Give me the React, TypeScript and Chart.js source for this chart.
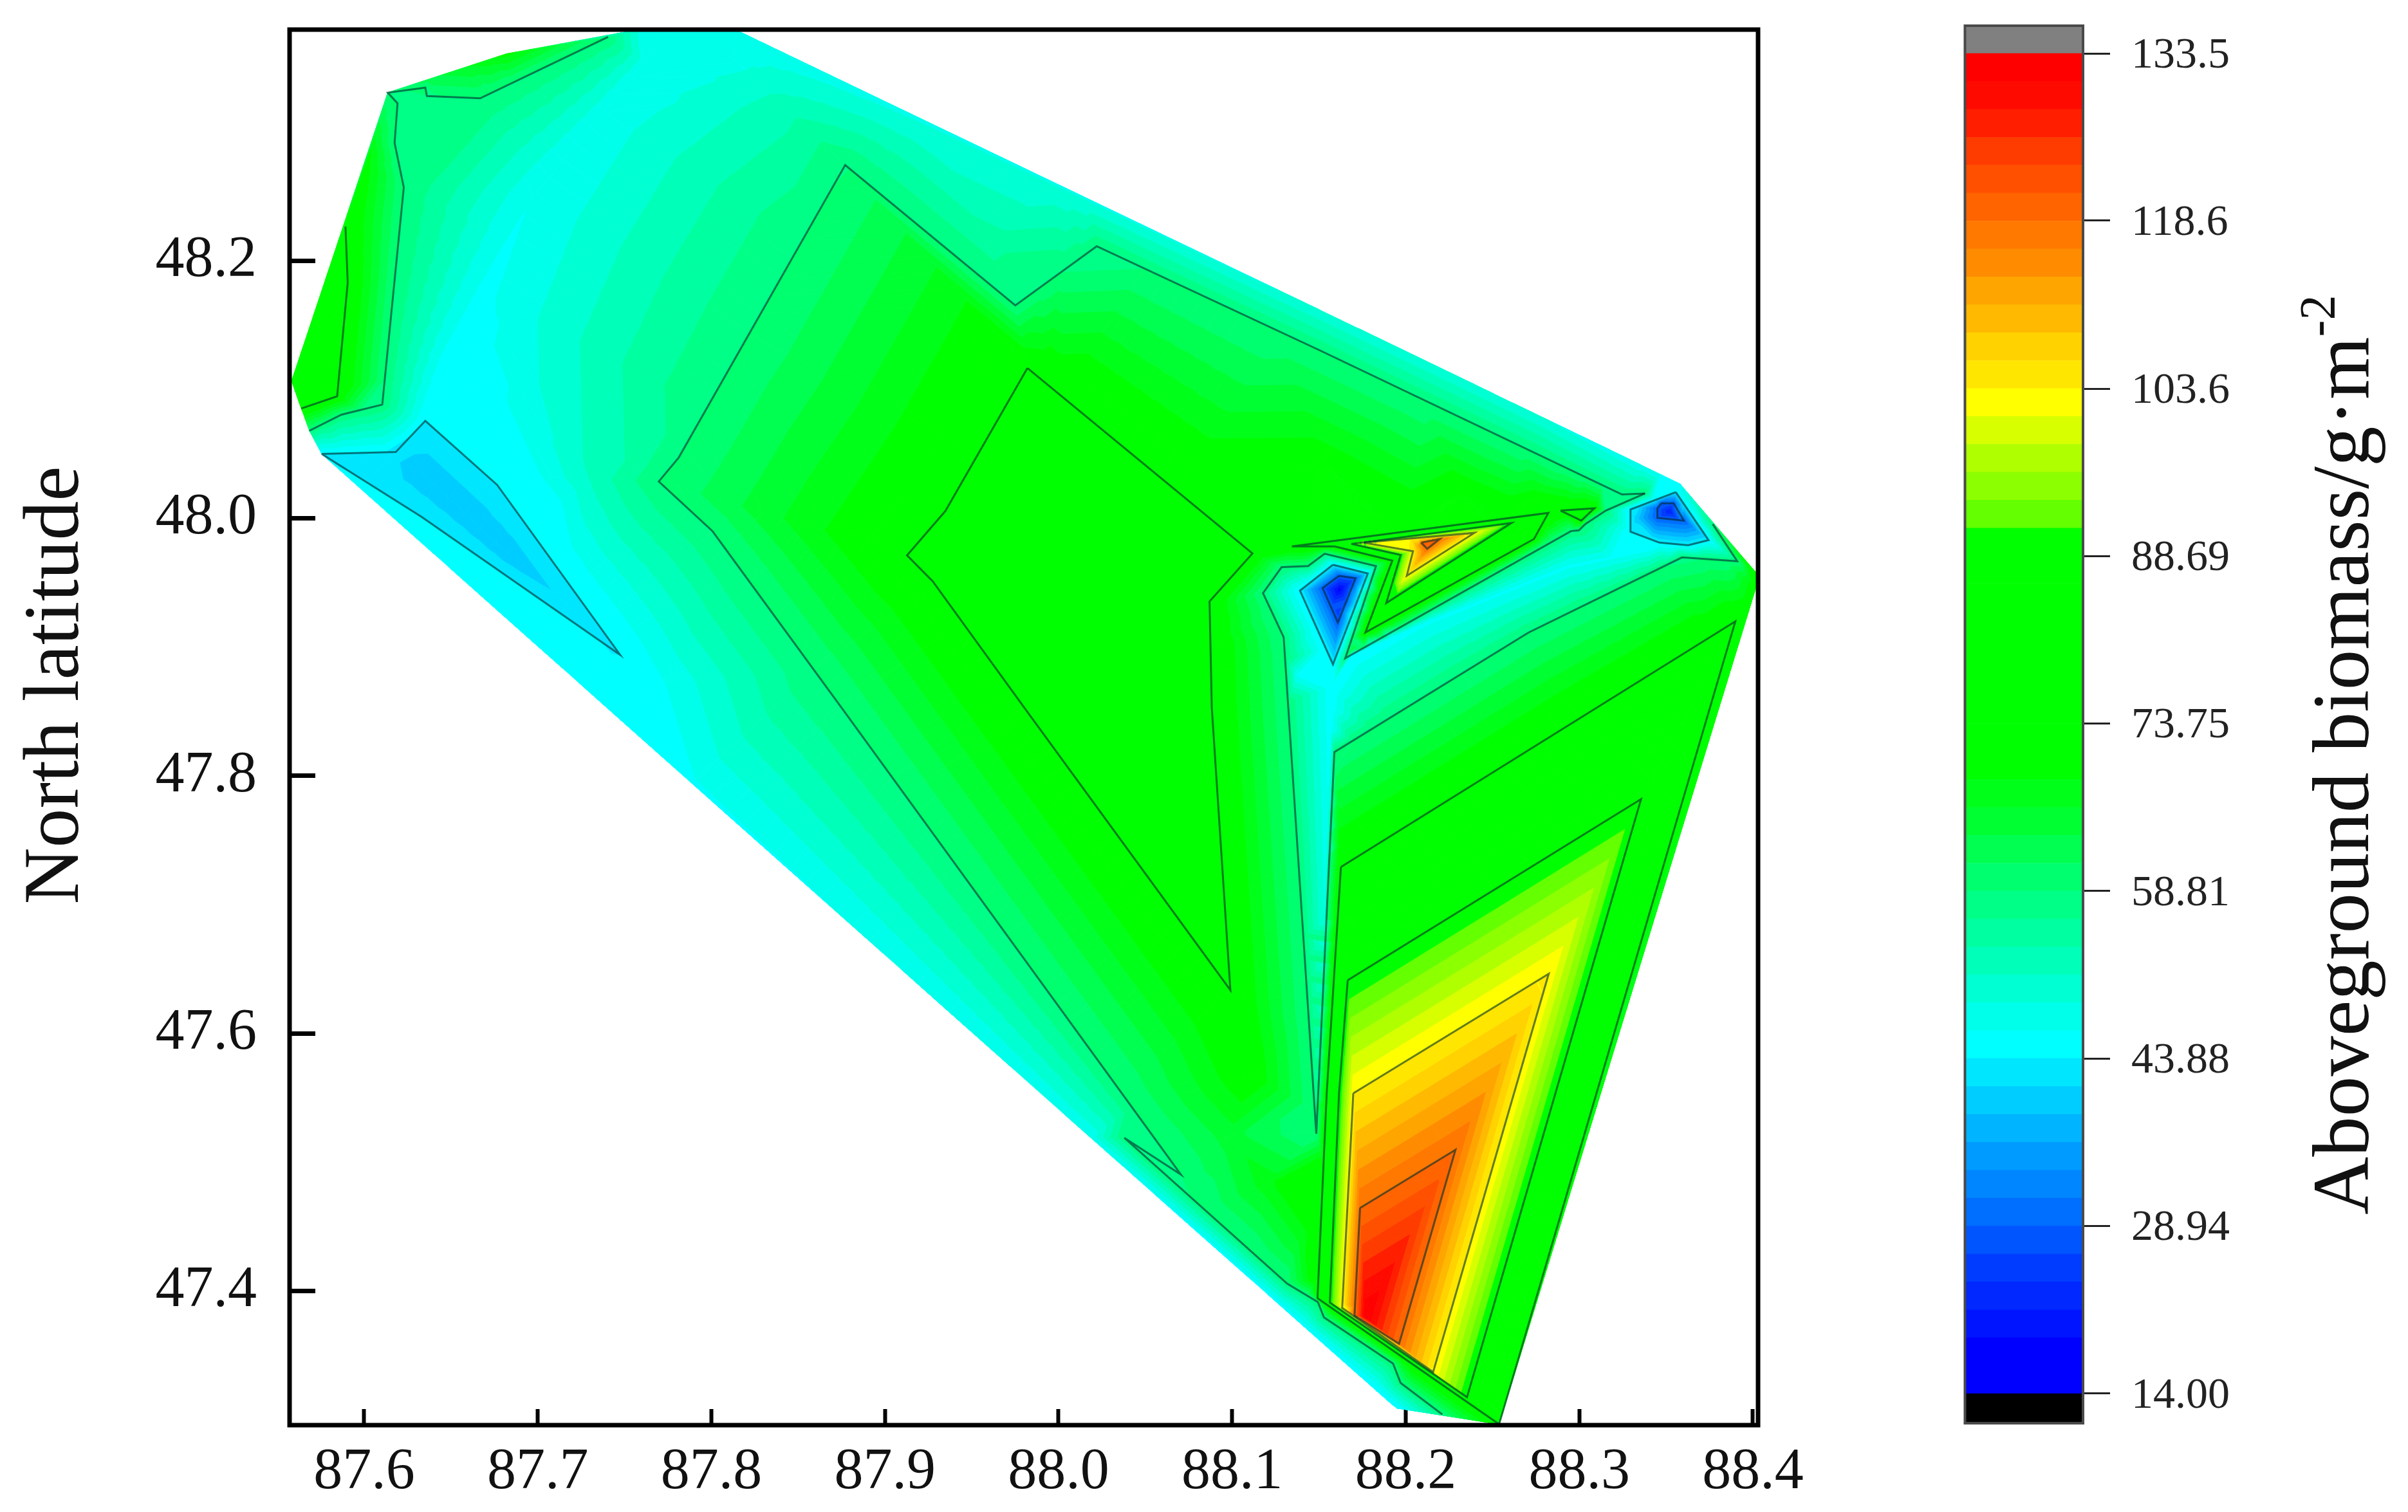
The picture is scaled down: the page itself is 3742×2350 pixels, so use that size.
import React, { useEffect, useRef } from "react";
import { Chart, registerables } from "chart.js";
Chart.register(...registerables);

type P = [number, number];
type N = [number, number, number];

const serif = "'Liberation Serif', 'Times New Roman', serif";

// ---------- axes ----------
const lonTicks = [87.6, 87.7, 87.8, 87.9, 88.0, 88.1, 88.2, 88.3, 88.4];
const latTicks = [47.4, 47.6, 47.8, 48.0, 48.2];
const lonRange = [87.557, 88.403];
const latRange = [47.2957, 48.3797];

// ---------- colour scale ----------
const bandEdges = [14, 16.49, 18.98, 21.47, 23.96, 26.45, 28.94, 31.43, 33.92, 36.41, 38.9, 41.39, 43.88, 46.37, 48.86, 51.34, 53.83, 56.32, 58.81, 61.3, 63.79, 66.28, 68.77, 71.26, 73.75, 76.24, 78.73, 81.22, 83.71, 86.2, 88.69, 91.18, 93.67, 96.16, 98.65, 101.13, 103.62, 106.11, 108.6, 111.09, 113.58, 116.07, 118.56, 121.05, 123.54, 126.03, 128.52, 131.01, 133.5];
const bandColors = [
  "rgb(0,0,255)", "rgb(0,0,255)", "rgb(0,20,255)", "rgb(0,40,255)", "rgb(0,60,255)", "rgb(0,85,255)",
  "rgb(0,110,255)", "rgb(0,135,255)", "rgb(0,155,255)", "rgb(0,180,255)", "rgb(0,205,255)", "rgb(0,230,255)",
  "rgb(0,255,255)", "rgb(0,255,235)", "rgb(0,255,210)", "rgb(0,255,185)", "rgb(0,255,160)", "rgb(0,255,135)",
  "rgb(0,255,110)", "rgb(0,255,80)", "rgb(0,255,50)", "rgb(0,255,25)",
  "rgb(0,255,0)", "rgb(0,255,0)", "rgb(0,255,0)", "rgb(0,255,0)", "rgb(0,255,0)", "rgb(0,255,0)", "rgb(0,255,0)", "rgb(0,255,0)", "rgb(0,255,0)",
  "rgb(100,255,0)", "rgb(140,255,0)", "rgb(175,255,0)", "rgb(215,255,0)", "rgb(255,255,0)",
  "rgb(255,230,0)", "rgb(255,210,0)", "rgb(255,185,0)", "rgb(255,165,0)", "rgb(255,140,0)", "rgb(255,120,0)",
  "rgb(255,100,0)", "rgb(255,80,0)", "rgb(255,60,0)", "rgb(255,30,0)", "rgb(255,10,0)", "rgb(255,0,0)",
];
const colorbarTicks = [14, 28.94, 43.88, 58.81, 73.75, 88.69, 103.6, 118.6, 133.5];
const colorbarLabels = ["14.00", "28.94", "43.88", "58.81", "73.75", "88.69", "103.6", "118.6", "133.5"];
const colorbarRange = [11.36, 135.97];

// ---------- outline of the surveyed area: lon, lat, biomass ----------
const hull: N[] = [
  [87.6136, 48.3307, 58.81], [87.6821, 48.3609, 70], [87.7405, 48.374, 58.81], [87.7591, 48.38, 48],
  [87.8131, 48.38, 47], [87.9282, 48.3027, 49], [88.1503, 48.1621, 49], [88.2799, 48.0778, 49],
  [88.3579, 48.027, 46], [88.3769, 47.9956, 58.81], [88.4016, 47.9583, 74], [88.4016, 47.9459, 72],
  [88.3282, 47.6274, 66], [88.2538, 47.2964, 73.75], [88.2211, 47.304, 58.81], [88.1945, 47.309, 44],
  [88.002, 47.5388, 47], [87.7883, 47.7949, 46], [87.5755, 48.0501, 43.88], [87.5684, 48.0681, 58.81],
  [87.5638, 48.0854, 73.75], [87.5582, 48.1069, 78], [87.5892, 48.2267, 73.75], [87.6025, 48.2834, 70],
];

// ---------- traced isolines: lon, lat ----------
const line58North: P[] = [
  [88.3379, 48.0194], [88.3246, 48.0186], [88.1503, 48.1307], [88.022, 48.2114], [87.9751, 48.1655],
  [87.8771, 48.2745], [87.7812, 48.0473], [87.7697, 48.0287], [87.8007, 47.99], [87.8751, 47.8528],
  [88.0705, 47.4903], [88.0379, 47.5189], [88.1317, 47.4056], [88.1494, 47.3913], [88.1529, 47.3794],
  [88.1927, 47.3436], [88.1971, 47.3284], [88.2211, 47.304],
];
const line58East: P[] = [
  [88.3379, 48.0194], [88.3153, 48.0061], [88.3034, 47.9955], [88.2998, 47.9907], [88.2953, 47.9902],
  [88.1652, 47.8914], [88.1829, 47.963], [88.1533, 47.9726], [88.1438, 47.963], [88.1285, 47.9621],
  [88.1178, 47.942], [88.1297, 47.9077], [88.1485, 47.522], [88.1589, 47.8185], [88.2707, 47.9113],
  [88.3592, 47.9697], [88.391, 47.9668], [88.3769, 47.9956],
];
const line58West: P[] = [
  [87.7405, 48.374], [87.6668, 48.3263], [87.6361, 48.3281], [87.6352, 48.3346], [87.6136, 48.3307],
  [87.6192, 48.3224], [87.6175, 48.2917], [87.6228, 48.2571], [87.6104, 48.0884], [87.5869, 48.0806], [87.5684, 48.0681],
];
const line73West: P[] = [[87.5892, 48.2267], [87.5905, 48.1832], [87.5844, 48.0949], [87.5638, 48.0854]];
const line43West: P[] = [
  [87.5755, 48.0501], [87.6182, 48.0516], [87.6352, 48.0758], [87.6766, 48.026], [87.7474, 47.8941], [87.633, 48.0012], [87.5755, 48.0501],
];
const line73Center: P[] = [
  [87.9821, 48.1168], [88.1117, 47.9728], [88.087, 47.9355], [88.0883, 47.8528], [88.099, 47.6336],
  [87.9804, 47.8528], [87.9275, 47.9512], [87.9127, 47.9713], [87.9348, 48.0057], [87.9821, 48.1168],
];
const line73Ne: P[] = [
  [88.1344, 47.9783], [88.2822, 48.0043], [88.2739, 47.984], [88.1768, 47.9114], [88.1923, 47.9673], [88.1591, 47.9783], [88.1344, 47.9783],
];
const line73Small: P[] = [[88.2892, 48.0061], [88.3087, 48.0079], [88.3012, 47.9983], [88.2892, 48.0061]];
const line88Ne: P[] = [[88.1687, 47.9802], [88.2609, 47.9965], [88.1888, 47.9343], [88.1971, 47.9716], [88.1687, 47.9802]];
const line103Ne: P[] = [[88.1758, 47.9812], [88.2397, 47.9888], [88.2006, 47.9554], [88.2042, 47.9745], [88.1758, 47.9812]];
const line118Ne: P[] = [[88.2089, 47.9812], [88.2196, 47.984], [88.2124, 47.9764], [88.2089, 47.9812]];
const line43BlueW: P[] = [[88.1581, 47.964], [88.1391, 47.9439], [88.1581, 47.8866], [88.1782, 47.9573], [88.1581, 47.964]];
const line28BlueW: P[] = [[88.1616, 47.9554], [88.1521, 47.9459], [88.1609, 47.919], [88.1711, 47.9535], [88.1616, 47.9554]];
const line43BlueE: P[] = [
  [88.3556, 48.0204], [88.3295, 48.007], [88.3295, 47.9897], [88.3461, 47.9812], [88.3627, 47.9792], [88.3745, 47.9831], [88.3556, 48.0204],
];
const line28BlueE: P[] = [
  [88.3473, 48.0118], [88.345, 48.0079], [88.345, 48.0004], [88.3603, 47.9983], [88.3544, 48.0118], [88.3473, 48.0118],
];
const line73Se: P[] = [
  [88.1627, 47.7293], [88.3899, 47.92], [88.2538, 47.2964], [88.1492, 47.3943], [88.1545, 47.5535], [88.1627, 47.7293],
];
const line88Se: P[] = [
  [88.1666, 47.6413], [88.3356, 47.782], [88.2353, 47.3174], [88.1563, 47.3909], [88.1616, 47.5535], [88.1666, 47.6413],
];
const line103Se: P[] = [
  [88.1698, 47.5535], [88.2824, 47.6463], [88.2158, 47.3369], [88.1634, 47.3868], [88.1698, 47.5535],
];
const line118Se: P[] = [
  [88.1737, 47.4644], [88.2287, 47.5096], [88.1962, 47.3589], [88.1705, 47.3808], [88.1737, 47.4644],
];

const isolines: [P[], number][] = [
  [line58North, 58.81], [line58East, 58.81], [line58West, 58.81], [line73West, 73.75], [line43West, 43.88],
  [line73Center, 73.75], [line73Ne, 73.75], [line73Small, 73.75], [line88Ne, 88.69], [line103Ne, 103.6], [line118Ne, 118.6],
  [line43BlueW, 43.88], [line28BlueW, 28.94], [line43BlueE, 43.88], [line28BlueE, 28.94],
  [line73Se, 73.75], [line88Se, 88.69], [line103Se, 103.6], [line118Se, 118.6],
];

// ---------- ridges and valleys read between the isolines: lon, lat, biomass ----------
const peakSe: N = [88.1768, 47.3794, 133.5];
const peakNe: N = [88.2158, 47.9828, 123];
const lowW: N = [88.1618, 47.9447, 18];
const lowE: N = [88.3521, 48.0055, 22];
const ridges: N[][] = [
  [peakSe, [88.1737, 47.4644, 118.6], [88.1698, 47.5535, 103.6], [88.1666, 47.6413, 88.69], [88.1627, 47.7293, 73.75], [88.1589, 47.8185, 58.81]],
  [peakSe, [88.2287, 47.5096, 118.6], [88.2824, 47.6463, 103.6], [88.3356, 47.782, 88.69], [88.3899, 47.92, 73.75]],
  [peakSe, [88.1962, 47.3589, 118.6], [88.2158, 47.3369, 103.6], [88.2353, 47.3174, 88.69], [88.2538, 47.2964, 73.75]],
  [peakSe, [88.1705, 47.3808, 118.6], [88.1634, 47.3868, 103.6], [88.1563, 47.3909, 88.69], [88.1492, 47.3943, 73.75], [88.1494, 47.3913, 58.81]],
  [peakNe, [88.2196, 47.984, 118.6], [88.2397, 47.9888, 103.6], [88.2609, 47.9965, 88.69], [88.2822, 48.0043, 73.75]],
  [peakNe, [88.2124, 47.9764, 118.6], [88.2006, 47.9554, 103.6], [88.1888, 47.9343, 88.69], [88.1768, 47.9114, 73.75], [88.1652, 47.8914, 58.81], [88.1581, 47.8866, 43.88]],
  [peakNe, [88.2089, 47.9812, 118.6], [88.2042, 47.9745, 103.6], [88.1971, 47.9716, 88.69], [88.1923, 47.9673, 73.75], [88.1829, 47.963, 58.81], [88.1782, 47.9573, 43.88], [88.1711, 47.9535, 28.94], lowW],
  [[88.1758, 47.9812, 103.6], [88.1687, 47.9802, 88.69], [88.1591, 47.9783, 73.75], [88.1533, 47.9726, 58.81], [88.1581, 47.964, 43.88], [88.1616, 47.9554, 28.94], lowW],
  [lowW, [88.1609, 47.919, 28.94], [88.1581, 47.8866, 43.88]],
  [lowW, [88.1521, 47.9459, 28.94], [88.1391, 47.9439, 43.88], [88.1178, 47.942, 58.81], [88.087, 47.9355, 73.75]],
  [lowE, [88.345, 48.0043, 28.94], [88.3295, 47.9983, 43.88]],
  [lowE, [88.3603, 47.9983, 28.94], [88.3745, 47.9831, 43.88], [88.391, 47.9668, 58.81]],
  [lowE, [88.3503, 48.0114, 28.94], [88.3556, 48.0204, 43.88], [88.3579, 48.027, 46]],
  [lowE, [88.353, 47.9995, 28.94], [88.3547, 47.9798, 43.88]],
  [[88.1581, 47.8866, 43.88], [88.1556, 47.8063, 46], [88.1529, 47.6871, 49], [88.1494, 47.5678, 55], [88.1485, 47.522, 58.81]],
  [[88.1581, 47.8866, 43.88], [88.2114, 47.9184, 46], [88.2937, 47.9626, 46], [88.3415, 47.9757, 46], [88.3461, 47.9812, 43.88]],
  [[87.9127, 47.9713, 73.75], [87.7697, 48.0287, 58.81], [87.6998, 48.0329, 46]],
  [[87.9821, 48.1168, 73.75], [87.8771, 48.2745, 58.81], [87.8149, 48.3549, 48]],
  [[87.9821, 48.1168, 73.75], [87.9751, 48.1655, 58.81], [87.9282, 48.3027, 49]],
  [[87.7618, 48.3549, 47.5], [87.6972, 48.25, 46.5], [87.6467, 48.1224, 45], [87.6352, 48.0758, 43.88]],
  [[87.5755, 48.0501, 43.88], [87.6202, 48.0436, 41.5], [87.6308, 48.0389, 39.5], [87.6821, 47.9733, 39.5], [87.7087, 47.9435, 41.5], [87.7474, 47.8941, 43.88]],
];

// ---------- isolated samples: lon, lat, biomass ----------
const samples: N[] = [
  [87.7087, 48.0091, 45], [87.7706, 47.8719, 46],
  [88.1114, 47.5678, 72], [88.1202, 47.4843, 68], [88.0981, 47.5201, 65], [88.1379, 47.4366, 66],
  [88.1512, 48.0448, 71], [88.2308, 48.021, 72], [88.2751, 48.0186, 70], [88.1379, 47.8779, 46],
];

// ---------- meshing ----------
const mx = (lon: number) => (lon - 87.6) * 1130.1;
const my = (lat: number) => (48 - lat) * 838.5;
const isFine = (lon: number, lat: number) =>
  (lon > 88.14 && lon < 88.26 && lat > 47.29 && lat < 47.41) || (lon > 88.12 && lon < 88.29 && lat > 47.95 && lat < 48.01);

function buildNodes(): N[] {
  const seen = new Set<string>();
  const out: N[] = [];
  const add = (n: N) => {
    const k = Math.round(mx(n[0]) * 2) + "," + Math.round(my(n[1]) * 2);
    if (seen.has(k)) return;
    seen.add(k);
    out.push(n);
  };
  const walk = (a: N, b: N) => {
    const len = Math.hypot(mx(b[0]) - mx(a[0]), my(b[1]) - my(a[1]));
    let s = 0;
    while (s < len) {
      const t = s / len;
      const lon = a[0] + (b[0] - a[0]) * t;
      const lat = a[1] + (b[1] - a[1]) * t;
      add([lon, lat, a[2] + (b[2] - a[2]) * t]);
      s += isFine(lon, lat) ? 3 : 14;
    }
    add(b);
  };
  samples.forEach(add);
  for (const [line, v] of isolines) {
    for (let i = 0; i + 1 < line.length; i++) walk([line[i][0], line[i][1], v], [line[i + 1][0], line[i + 1][1], v]);
  }
  for (const r of ridges) {
    for (let i = 0; i + 1 < r.length; i++) walk(r[i], r[i + 1]);
  }
  for (let i = 0; i < hull.length; i++) walk(hull[i], hull[(i + 1) % hull.length]);
  return out;
}

function triangulate(nodes: N[]): [number, number, number][] {
  const pts: P[] = nodes.map((n, i) => [mx(n[0]) + (((i * 0.61803) % 1) - 0.5) * 0.03, my(n[1]) + (((i * 0.75488) % 1) - 0.5) * 0.03]);
  const n = pts.length;
  pts.push([-60000, -60000], [60000, -60000], [0, 80000]);
  type T = { a: number; b: number; c: number; x: number; y: number; r: number };
  const mk = (a: number, b: number, c: number): T => {
    const [ax, ay] = pts[a], [bx, by] = pts[b], [cx, cy] = pts[c];
    const d = 2 * (ax * (by - cy) + bx * (cy - ay) + cx * (ay - by));
    const a2 = ax * ax + ay * ay, b2 = bx * bx + by * by, c2 = cx * cx + cy * cy;
    const x = (a2 * (by - cy) + b2 * (cy - ay) + c2 * (ay - by)) / d;
    const y = (a2 * (cx - bx) + b2 * (ax - cx) + c2 * (bx - ax)) / d;
    return { a, b, c, x, y, r: (x - ax) ** 2 + (y - ay) ** 2 };
  };
  let tris: T[] = [mk(n, n + 1, n + 2)];
  for (let i = 0; i < n; i++) {
    const [px, py] = pts[i];
    const keep: T[] = [];
    const edges = new Map<string, [number, number, number]>();
    for (const t of tris) {
      if ((px - t.x) ** 2 + (py - t.y) ** 2 < t.r) {
        for (const [u, v] of [[t.a, t.b], [t.b, t.c], [t.c, t.a]]) {
          const k = u < v ? u + "_" + v : v + "_" + u;
          const e = edges.get(k);
          if (e) e[2]++;
          else edges.set(k, [u, v, 1]);
        }
      } else keep.push(t);
    }
    edges.forEach((e) => {
      if (e[2] === 1) keep.push(mk(e[0], e[1], i));
    });
    tris = keep;
  }
  return tris.filter((t) => t.a < n && t.b < n && t.c < n).map((t) => [t.a, t.b, t.c]);
}

function clip(poly: N[], level: number, keepAbove: boolean): N[] {
  const out: N[] = [];
  for (let i = 0; i < poly.length; i++) {
    const p = poly[i], q = poly[(i + 1) % poly.length];
    const pIn = keepAbove ? p[2] >= level : p[2] <= level;
    const qIn = keepAbove ? q[2] >= level : q[2] <= level;
    if (pIn) out.push(p);
    if (pIn !== qIn) {
      const t = (level - p[2]) / (q[2] - p[2]);
      out.push([p[0] + (q[0] - p[0]) * t, p[1] + (q[1] - p[1]) * t, level]);
    }
  }
  return out;
}

function buildBands() {
  const nodes = buildNodes();
  const tris = triangulate(nodes);
  const data: ({ x: number | null; y: number | null })[][] = bandColors.map(() => []);
  for (const [a, b, c] of tris) {
    const tri = [nodes[a], nodes[b], nodes[c]];
    const lo = Math.min(tri[0][2], tri[1][2], tri[2][2]);
    const hi = Math.max(tri[0][2], tri[1][2], tri[2][2]);
    for (let k = 0; k < bandColors.length; k++) {
      const e0 = bandEdges[k], e1 = bandEdges[k + 1];
      if (hi < e0 || lo > e1) continue;
      let poly = clip(tri, e0, true);
      if (poly.length) poly = clip(poly, e1, false);
      if (poly.length < 3) continue;
      for (const p of poly) data[k].push({ x: p[0], y: p[1] });
      data[k].push({ x: poly[0][0], y: poly[0][1] });
      data[k].push({ x: null, y: null });
    }
  }
  return data;
}

export default function App() {
  const mapRef = useRef<HTMLCanvasElement>(null);
  const barRef = useRef<HTMLCanvasElement>(null);

  useEffect(() => {
    const bands = buildBands();
    const tickColor = "#111";
    const mapChart = new Chart(mapRef.current!, {
      type: "scatter",
      data: {
        datasets: [
          ...isolines.map(([line]) => ({
            data: line.map(([x, y]) => ({ x, y })),
            showLine: true,
            fill: false,
            borderColor: "rgba(0,45,45,0.62)",
            borderWidth: 3,
            pointRadius: 0,
            order: 0,
          })),
          ...bands.map((d, k) => ({
            data: d,
            showLine: true,
            spanGaps: false,
            fill: "shape",
            backgroundColor: bandColors[k],
            borderColor: bandColors[k],
            borderWidth: 1,
            pointRadius: 0,
            order: 1,
          })),
        ],
      } as any,
      options: {
        responsive: false,
        animation: false,
        events: [],
        layout: { autoPadding: false, padding: { top: 46, right: 168, bottom: 0, left: 0 } },
        plugins: { legend: { display: false }, tooltip: { enabled: false } },
        scales: {
          x: {
            type: "linear",
            min: lonRange[0],
            max: lonRange[1],
            afterBuildTicks: (s: any) => { s.ticks = lonTicks.map((value) => ({ value })); },
            afterFit: (s: any) => { s.height = 135; s.paddingLeft = 0; s.paddingRight = 0; },
            ticks: { autoSkip: false, maxRotation: 0, padding: 45, color: tickColor, font: { family: serif, size: 90 }, callback: (v: any) => Number(v).toFixed(1) },
            grid: { drawOnChartArea: false, tickLength: -25, tickWidth: 6, tickColor: "#000" },
            border: { display: false },
          },
          y: {
            type: "linear",
            min: latRange[0],
            max: latRange[1],
            afterBuildTicks: (s: any) => { s.ticks = latTicks.map((value) => ({ value })); },
            afterFit: (s: any) => { s.width = 450; s.paddingTop = 0; s.paddingBottom = 0; },
            ticks: { autoSkip: false, padding: 91, color: tickColor, font: { family: serif, size: 90 }, callback: (v: any) => Number(v).toFixed(1) },
            grid: { drawOnChartArea: false, tickLength: -40, tickWidth: 7, tickColor: "#000" },
            border: { display: false },
          },
        },
      } as any,
      plugins: [
        {
          id: "frameAndTitle",
          afterDraw(c: any) {
            const { ctx, chartArea: a } = c;
            ctx.save();
            ctx.strokeStyle = "#000";
            ctx.lineWidth = 7;
            ctx.strokeRect(a.left, a.top, a.right - a.left, a.bottom - a.top);
            ctx.translate(121, 1065);
            ctx.rotate(-Math.PI / 2);
            ctx.fillStyle = "#111";
            ctx.font = `122px ${serif}`;
            ctx.textAlign = "center";
            ctx.fillText("North latitude", 0, 0);
            ctx.restore();
          },
        },
      ],
    });

    const barChart = new Chart(barRef.current!, {
      type: "bar",
      data: {
        labels: ["Aboveground biomass"],
        datasets: [
          { data: [[colorbarRange[0], bandEdges[0]]], backgroundColor: "#000" },
          ...bandColors.map((color, k) => ({ data: [[bandEdges[k], bandEdges[k + 1]]], backgroundColor: color })),
          { data: [[bandEdges[bandEdges.length - 1], colorbarRange[1]]], backgroundColor: "#808080" },
        ].map((d) => ({ ...d, grouped: false, barPercentage: 1, categoryPercentage: 1, borderWidth: 0 })),
      } as any,
      options: {
        responsive: false,
        animation: false,
        events: [],
        layout: { autoPadding: false, padding: { top: 40, right: 0, bottom: 138, left: 153.5 } },
        plugins: { legend: { display: false }, tooltip: { enabled: false } },
        scales: {
          x: { display: false },
          y: {
            position: "right",
            min: colorbarRange[0],
            max: colorbarRange[1],
            afterBuildTicks: (s: any) => { s.ticks = colorbarTicks.map((value) => ({ value })); },
            afterFit: (s: any) => { s.width = 505; s.paddingTop = 0; s.paddingBottom = 0; },
            ticks: {
              autoSkip: false,
              padding: 33,
              labelOffset: 4,
              color: "#222",
              font: { family: serif, size: 68 },
              callback: (v: any) => colorbarLabels[colorbarTicks.indexOf(Number(v))],
            },
            grid: { drawOnChartArea: false, tickLength: 42, tickWidth: 3, tickColor: "#222" },
            border: { display: false },
          },
        },
      } as any,
      plugins: [
        {
          id: "barFrameAndTitle",
          afterDraw(c: any) {
            const { ctx, chartArea: a } = c;
            ctx.save();
            ctx.strokeStyle = "#4a4a4a";
            ctx.lineWidth = 4;
            ctx.strokeRect(a.left, a.top, a.right - a.left, a.bottom - a.top);
            ctx.translate(780, 1888);
            ctx.rotate(-Math.PI / 2);
            ctx.fillStyle = "#111";
            ctx.textAlign = "left";
            ctx.font = `125px ${serif}`;
            const main = "Aboveground biomass/g·m";
            ctx.fillText(main, 0, 0);
            const w = ctx.measureText(main).width;
            ctx.font = `78px ${serif}`;
            ctx.fillText("-2", w, -53);
            ctx.restore();
          },
        },
      ],
    });

    return () => {
      mapChart.destroy();
      barChart.destroy();
    };
  }, []);

  return (
    <div style={{ position: "absolute", left: 0, top: 0, width: 3742, height: 2350, background: "#fff" }}>
      <canvas ref={mapRef} width={2900} height={2350} style={{ position: "absolute", left: 0, top: 0, width: 2900, height: 2350 }} />
      <canvas ref={barRef} width={842} height={2350} style={{ position: "absolute", left: 2900, top: 0, width: 842, height: 2350 }} />
    </div>
  );
}
